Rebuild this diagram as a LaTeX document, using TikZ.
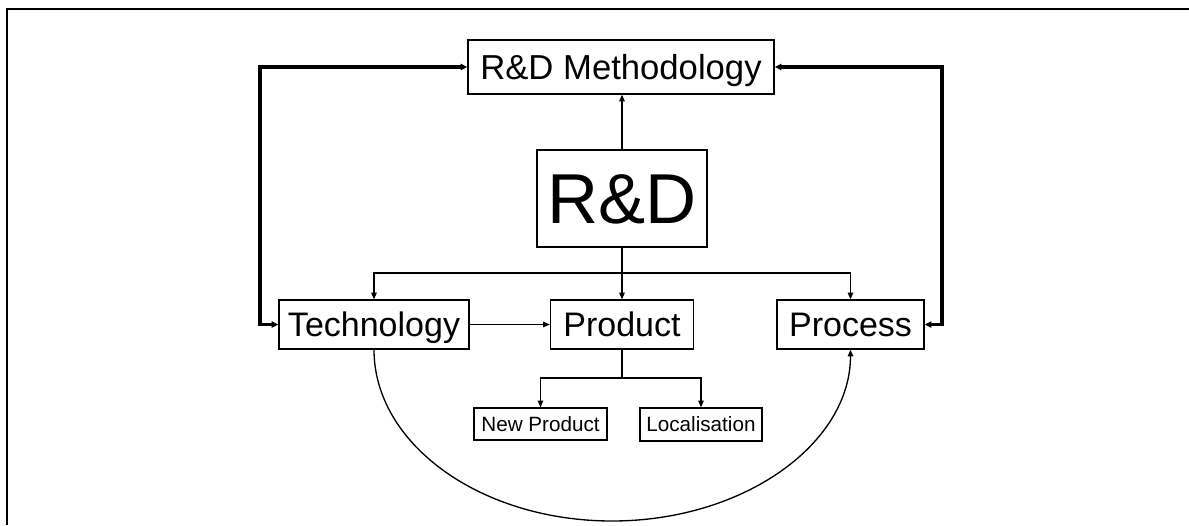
\documentclass[tikz,border=0pt]{standalone}
\usepackage{fontspec}
\setmainfont{Liberation Sans}
\usetikzlibrary{arrows.meta}
\begin{document}
\begin{tikzpicture}[x=0.75pt,y=-0.75pt,
  box/.style={draw,line width=0.9pt,inner sep=0pt,anchor=center,text depth=0pt},
  bigfont/.style={font=\fontsize{26}{30}\selectfont,text height=18.6pt},
  hugefont/.style={font=\fontsize{53}{60}\selectfont,text height=37.9pt},
  midfont/.style={font=\fontsize{25.5}{30}\selectfont,text height=18.3pt},
  smallfont/.style={font=\fontsize{15.5}{18}\selectfont,text height=11.1pt},
  conn/.style={line width=1pt,-{Triangle[length=5pt,width=4pt]}},
  thickconn/.style={line width=2.4pt,{Triangle[length=5pt,width=4.5pt]}-{Triangle[length=5pt,width=4.5pt]}},
  plain/.style={line width=1pt}]
\useasboundingbox (0,0) rectangle (1189,525);
\draw[line width=1.6pt] (7,525) -- (7,9) -- (1189,9);
\node[box,bigfont,minimum width=306*0.75pt,minimum height=54*0.75pt] (meth) at (621,67) {R\&D Methodology};
\node[box,hugefont,minimum width=170*0.75pt,minimum height=97*0.75pt] (rd) at (622,198.5) {R\&D};
\node[box,midfont,minimum width=190*0.75pt,minimum height=49*0.75pt] (tech) at (374,324.5) {Technology};
\node[box,midfont,minimum width=143*0.75pt,minimum height=49*0.75pt] (prod) at (622,324.5) {Product};
\node[box,midfont,minimum width=147*0.75pt,minimum height=49*0.75pt] (proc) at (850.5,324.5) {Process};
\node[box,smallfont,minimum width=133*0.75pt,minimum height=32*0.75pt] (newp) at (540.5,424) {New Product};
\node[box,smallfont,minimum width=122*0.75pt,minimum height=33*0.75pt] (loc) at (701,424.5) {Localisation};
\coordinate (split) at (622,273);
\coordinate (psplit) at (622,378);
\coordinate (lc) at (260,324.5);
\coordinate (rc) at (942,324.5);
\coordinate (cb) at (612,521);
% connectors
\draw[conn] (rd.north) -- (rd.north |- meth.south);
\draw[conn] (rd.south) -- (prod.north);
\draw[conn] (split) -| (tech.north);
\draw[conn] (split) -| (proc.north);
\draw[conn] (tech.east) -- (prod.west);
\draw[plain] (prod.south) -- (psplit);
\draw[conn] (psplit) -| (newp.north);
\draw[conn] (psplit) -| (loc.north);
\draw[thickconn] (meth.west) -| (lc) -- (tech.west);
\draw[thickconn] (meth.east) -| (rc) -- (proc.east);
\draw[conn] (tech.south) .. controls (374,444) and (480.6,521) .. (cb)
  .. controls (743.4,521) and (850.5,444) .. (proc.south);
\end{tikzpicture}
\end{document}
